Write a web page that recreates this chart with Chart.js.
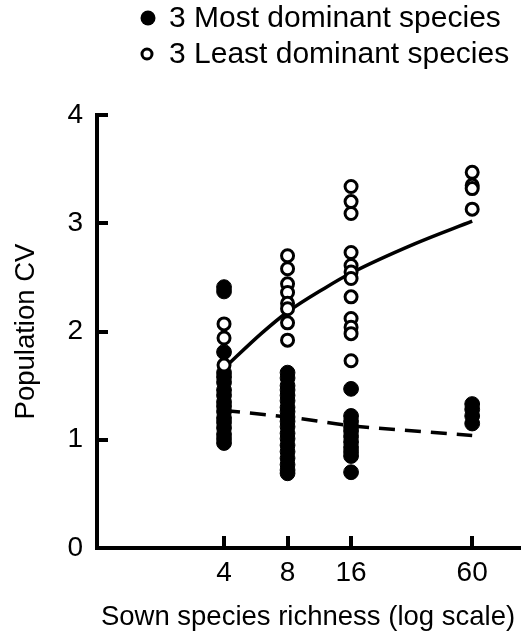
<!DOCTYPE html>
<html>
<head>
<meta charset="utf-8">
<script src="https://cdn.jsdelivr.net/npm/chart.js@4.4.0/dist/chart.umd.min.js"></script>
<style>
  html, body { margin: 0; padding: 0; background: #fff; }
  #wrap { width: 528px; height: 632px; }
</style>
</head>
<body>
<div id="wrap"><canvas id="cvChart" width="528" height="632"></canvas></div>
<script>
// sown species richness levels
const richness = [4, 8, 16, 60];

// population CV per richness level
const mostCV = [
  [2.41, 2.37, 1.81, 1.62, 1.58, 1.53, 1.46, 1.41, 1.35, 1.31, 1.26, 1.20, 1.16, 1.11, 1.05, 1.01, 0.97],
  [1.62, 1.57, 1.50, 1.46, 1.41, 1.36, 1.30, 1.26, 1.21, 1.17, 1.12, 1.06, 1.01, 0.95, 0.89, 0.83, 0.77, 0.72, 0.69],
  [1.47, 1.22, 1.17, 1.12, 1.08, 1.03, 0.98, 0.93, 0.89, 0.85, 0.70],
  [1.33, 1.28, 1.22, 1.15]
];
const leastCV = [
  [2.07, 1.94, 1.69],
  [2.70, 2.58, 2.44, 2.36, 2.26, 2.21, 2.08, 1.92],
  [3.34, 3.20, 3.09, 2.73, 2.61, 2.55, 2.49, 2.32, 2.12, 2.04, 1.98, 1.73],
  [3.47, 3.35, 3.32, 3.13]
];

// fitted curves
const leastFitX = [4, 6, 8, 12, 16, 32, 60];
const leastFitCV = [1.66, 1.98, 2.18, 2.40, 2.54, 2.81, 3.02];
const mostFitX = [4, 8, 16, 32, 60];
const mostFitCV = [1.27, 1.21, 1.13, 1.08, 1.04];

const xTicks = [4, 8, 16, 60];
const yTicks = [0, 1, 2, 3, 4];
const seriesLabels = ['3 Most dominant species', '3 Least dominant species'];

const FONT = "'Liberation Sans', Arial, Helvetica, sans-serif";
Chart.defaults.font.family = FONT;
Chart.defaults.font.size = 28;
Chart.defaults.color = '#000';

function toPoints(levels, values) {
  const pts = [];
  levels.forEach((x, i) => values[i].forEach(y => pts.push({ x: x, y: y })));
  return pts;
}

function zipXY(xs, ys) {
  return xs.map((x, i) => ({ x: x, y: ys[i] }));
}

// legend drawn above the plot, left aligned markers
const speciesLegend = {
  id: 'speciesLegend',
  afterDraw(chart) {
    const ctx = chart.ctx;
    const rows = [
      { text: seriesLabels[0], y: 18, filled: true },
      { text: seriesLabels[1], y: 54, filled: false }
    ];
    ctx.save();
    ctx.font = '30px ' + FONT;
    ctx.fillStyle = '#000';
    ctx.strokeStyle = '#000';
    ctx.textBaseline = 'middle';
    rows.forEach(r => {
      ctx.beginPath();
      if (r.filled) {
        ctx.arc(148, r.y, 7.5, 0, Math.PI * 2);
        ctx.fill();
      } else {
        ctx.lineWidth = 3;
        ctx.arc(147, r.y, 5, 0, Math.PI * 2);
        ctx.stroke();
      }
      ctx.fillText(r.text, 169, r.y + 1);
    });
    ctx.restore();
  }
};

new Chart(document.getElementById('cvChart'), {
  type: 'scatter',
  data: {
    datasets: [
      {
        label: seriesLabels[1],
        data: toPoints(richness, leastCV),
        pointStyle: 'circle',
        pointRadius: 6,
        pointBorderWidth: 3,
        backgroundColor: '#fff',
        borderColor: '#000',
        order: 0
      },
      {
        label: seriesLabels[0],
        data: toPoints(richness, mostCV),
        pointStyle: 'circle',
        pointRadius: 7.4,
        pointBorderWidth: 1,
        backgroundColor: '#000',
        borderColor: '#000',
        order: 1
      },
      {
        label: 'least fit',
        data: zipXY(leastFitX, leastFitCV),
        showLine: true,
        pointRadius: 0,
        borderColor: '#000',
        borderWidth: 3.5,
        cubicInterpolationMode: 'monotone',
        order: 2
      },
      {
        label: 'most fit',
        data: zipXY(mostFitX, mostFitCV),
        showLine: true,
        pointRadius: 0,
        borderColor: '#000',
        borderWidth: 3.5,
        borderDash: [16, 10],
        cubicInterpolationMode: 'monotone',
        order: 3
      }
    ]
  },
  options: {
    responsive: false,
    animation: false,
    events: [],
    layout: { padding: { top: 115, right: 0, left: 0, bottom: 0 } },
    plugins: {
      legend: { display: false },
      tooltip: { enabled: false }
    },
    scales: {
      x: {
        type: 'logarithmic',
        min: 1,
        max: 100,
        afterBuildTicks: s => { s.ticks = xTicks.map(v => ({ value: v })); },
        afterFit: s => { s.height = 84; },
        ticks: {
          autoSkip: false,
          maxRotation: 0,
          padding: 20,
          callback: v => String(v)
        },
        grid: { drawOnChartArea: false, tickLength: -12, lineWidth: 4, color: '#000' },
        border: { width: 4, color: '#000' },
        title: {
          display: true,
          text: 'Sown species richness (log scale)',
          font: { size: 27.5 },
          padding: { top: 0, bottom: -2 }
        }
      },
      y: {
        min: 0,
        max: 4,
        afterBuildTicks: s => { s.ticks = yTicks.map(v => ({ value: v })); },
        afterFit: s => { s.width = 97; },
        ticks: { padding: 25 },
        grid: { drawOnChartArea: false, tickLength: -11, lineWidth: 4, color: '#000' },
        border: { width: 4, color: '#000' },
        title: {
          display: true,
          text: 'Population CV',
          font: { size: 27.5 },
          padding: { top: 10, bottom: 0 }
        }
      }
    }
  },
  plugins: [speciesLegend]
});
</script>
</body>
</html>
